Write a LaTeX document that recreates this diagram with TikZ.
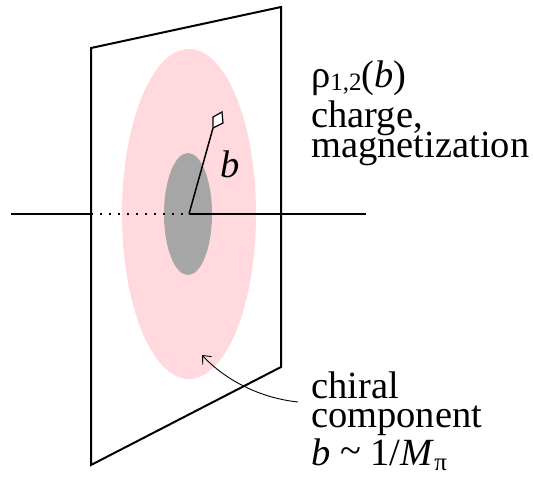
\documentclass[tikz,border=0pt]{standalone}
\usepackage{fontspec}
\setmainfont{Liberation Serif}
\usetikzlibrary{arrows.meta}
\definecolor{pinkfill}{RGB}{255,217,221}
\definecolor{grayfill}{RGB}{166,166,166}
\newcommand\tightlines{\lineskiplimit=-100pt\relax\lineskip=0pt\relax}
\begin{document}
\begin{tikzpicture}[x=1pt,y=-1pt,
  lbl/.style={anchor=base west, inner sep=0pt, font=\fontsize{38.5}{40}\selectfont},
  block/.style={anchor=base west, inner sep=0pt, align=left,
    font=\fontsize{38.5}{29.5}\selectfont\tightlines},
  edge/.style={line width=2pt, line join=miter},
  axisline/.style={line width=2pt},
  dotline/.style={line width=1.6pt, dash pattern=on 1.6pt off 7.4pt},
  radius/.style={line width=1.5pt},
  marker/.style={line width=1.2pt, fill=white, line join=miter},
  pointer/.style={line width=0.9pt, -{Straight Barb[length=7pt,width=12pt]}}]
\useasboundingbox (0,0) rectangle (533,479);
% density regions
\fill[pinkfill] (189,214) ellipse [x radius=67, y radius=165];
\fill[grayfill] (188,214) ellipse [x radius=24, y radius=61];
% plane
\coordinate (A) at (91,48);
\coordinate (B) at (281,7);
\coordinate (C) at (281,367);
\coordinate (D) at (91,465);
\draw[edge] (A) -- (B) -- (C) -- (D) -- cycle;
% axis
\coordinate (L) at (11,214);
\coordinate (P) at (91,214);
\coordinate (O) at (189,214);
\coordinate (R) at (366,214);
\draw[axisline] (L) -- (P);
\draw[dotline] (P) -- (O);
\draw[axisline] (O) -- (R);
% impact parameter
\coordinate (T) at (213,128);
\draw[radius] (O) -- (T);
\draw[marker] (T) -- (213,117) -- (222,112) -- (223,123) -- cycle;
\node[lbl] (blab) at (220,177) {\textit{b}};
% upper labels (anchor = baseline of last line)
\node[block] (upper) at (311,157) {ρ\raisebox{-3pt}{\fontsize{25}{25}\selectfont 1,2}(\textit{b})\\[10.5pt]charge,\\magnetization};
% lower labels (anchor = baseline of last line)
\node[block] (lower) at (311,465) {chiral\\component\\[8pt]\textit{b} \raisebox{2pt}{\textasciitilde} 1/\textit{M}\raisebox{-5pt}{\fontsize{25}{25}\selectfont π}};
% pointer
\coordinate (tail) at (298,402);
\coordinate (tip) at (202,355);
\draw[pointer] (tail) .. controls (260,398) and (225,380) .. (tip);
\end{tikzpicture}
\end{document}
